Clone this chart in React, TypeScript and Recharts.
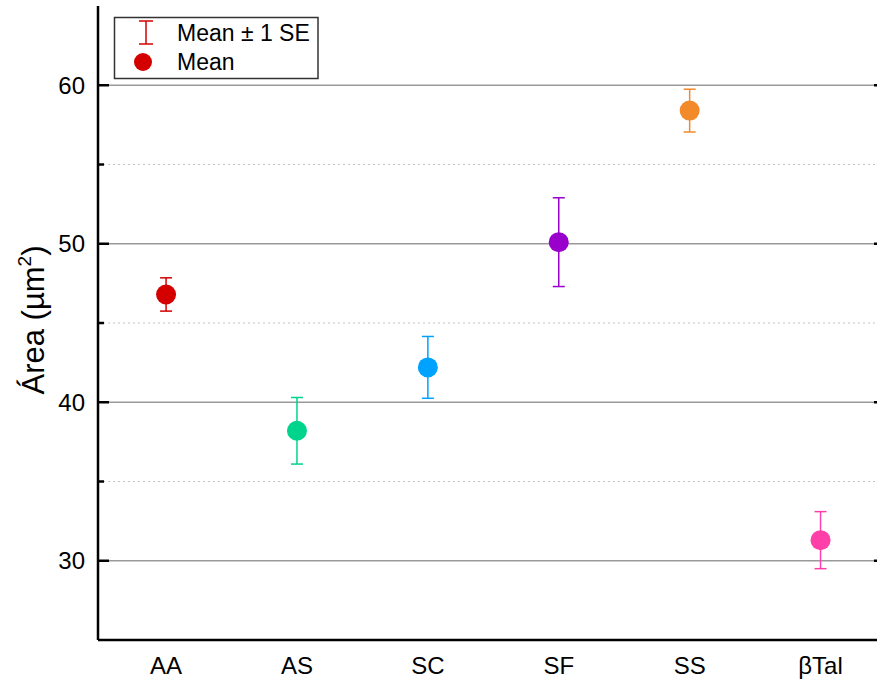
import React from 'react';
import { ComposedChart, Scatter, ErrorBar, XAxis, YAxis, ReferenceLine } from 'recharts';

const categories = ['AA', 'AS', 'SC', 'SF', 'SS', 'βTal'];
const means = [46.8, 38.2, 42.2, 50.1, 58.4, 31.3];
const errors = [1.05, 2.1, 1.95, 2.8, 1.35, 1.8];
const colors = ['#D40000', '#00D48C', '#00A2FF', '#9900CC', '#F28A2A', '#FF40A8'];
const majorTicks = [30, 40, 50, 60];
const minorTicks = [35, 45, 55];

const FONT = '"Liberation Sans", Arial, sans-serif';

const series = categories.map((name, i) => ({
  name,
  color: colors[i],
  data: [{ x: i + 1, y: means[i], err: errors[i] }],
}));

const LeftTick = ({ x, y, payload }: any) => {
  const major = majorTicks.includes(payload.value);
  const minor = minorTicks.includes(payload.value);
  if (!major && !minor) return null;
  return (
    <g>
      <line x1={x} y1={y} x2={x + (major ? 11 : 6)} y2={y} stroke="#000" strokeWidth={2.5} />
      {major && (
        <text x={x - 13} y={y} dy="0.36em" textAnchor="end" fontSize={24} fill="#000" fontFamily={FONT}>
          {payload.value}
        </text>
      )}
    </g>
  );
};

const RightTick = ({ x, y, payload }: any) => {
  const major = majorTicks.includes(payload.value);
  const minor = minorTicks.includes(payload.value);
  if (!major && !minor) return null;
  return <line x1={x - (major ? 12 : 6)} y1={y} x2={x} y2={y} stroke="#000" strokeWidth={2.5} />;
};

const BottomTick = ({ x, y, payload }: any) => (
  <text x={x} y={y + 34} textAnchor="middle" fontSize={24} fill="#000" fontFamily={FONT}>
    {categories[payload.value - 1]}
  </text>
);

const App = () => {
  const yTicks = [...majorTicks, ...minorTicks].sort((a, b) => a - b);
  return (
    <div style={{ position: 'absolute', left: 0, top: 0, width: 877, height: 684, overflow: 'hidden', background: '#fff' }}>
      <ComposedChart width={900} height={684} margin={{ top: 6, right: 0, bottom: 0, left: 0 }}>
        <XAxis
          xAxisId="b"
          type="number"
          dataKey="x"
          domain={[0.48, 6.5]}
          ticks={[1, 2, 3, 4, 5, 6]}
          allowDataOverflow
          height={44}
          tickSize={0}
          tickMargin={0}
          tickLine={false}
          axisLine={{ stroke: '#000', strokeWidth: 2.5 }}
          tick={<BottomTick />}
        />
        <XAxis
          xAxisId="t"
          orientation="top"
          type="number"
          domain={[0.48, 6.5]}
          allowDataOverflow
          height={0}
          tick={false}
          tickLine={false}
          axisLine={{ stroke: '#000', strokeWidth: 2.5 }}
        />
        <YAxis
          yAxisId="l"
          type="number"
          domain={[25, 65]}
          ticks={yTicks}
          allowDataOverflow
          width={98}
          tickSize={0}
          tickMargin={0}
          tickLine={false}
          axisLine={{ stroke: '#000', strokeWidth: 2.5 }}
          tick={<LeftTick />}
        />
        <YAxis
          yAxisId="r"
          orientation="right"
          type="number"
          domain={[25, 65]}
          ticks={yTicks}
          allowDataOverflow
          width={14}
          tickSize={0}
          tickMargin={0}
          tickLine={false}
          axisLine={{ stroke: '#000', strokeWidth: 2.5 }}
          tick={<RightTick />}
        />
        {majorTicks.map((v) => (
          <ReferenceLine key={'M' + v} xAxisId="b" yAxisId="l" y={v} stroke="#999" strokeWidth={1.5} />
        ))}
        {minorTicks.map((v) => (
          <ReferenceLine key={'m' + v} xAxisId="b" yAxisId="l" y={v} stroke="#c4c4c4" strokeWidth={1} strokeDasharray="2 3" />
        ))}
        {series.map((s) => (
          <Scatter
            key={s.name}
            xAxisId="b"
            yAxisId="l"
            data={s.data}
            dataKey="y"
            fill={s.color}
            isAnimationActive={false}
            shape={(p: any) => <circle cx={p.cx} cy={p.cy} r={10} fill={s.color} />}
          >
            <ErrorBar dataKey="err" direction="y" width={6} stroke={s.color} strokeWidth={1.5} />
          </Scatter>
        ))}
      </ComposedChart>
      <svg width={877} height={684} style={{ position: 'absolute', left: 0, top: 0, pointerEvents: 'none' }} fontFamily={FONT}>
        <text transform="translate(44,320) rotate(-90)" textAnchor="middle" fontSize={31} fill="#000">
          Área (µm<tspan fontSize={19} dy={-13}>2</tspan><tspan dy={13}>)</tspan>
        </text>
        <rect x={114.5} y={17.5} width={203.5} height={61} fill="#fff" stroke="#333" strokeWidth={1.5} />
        <line x1={146} y1={21} x2={146} y2={44} stroke={colors[0]} strokeWidth={1.5} />
        <line x1={139} y1={21} x2={153} y2={21} stroke={colors[0]} strokeWidth={1.5} />
        <line x1={139} y1={44} x2={153} y2={44} stroke={colors[0]} strokeWidth={1.5} />
        <text x={177} y={41} fontSize={23} fill="#000">Mean ± 1 SE</text>
        <circle cx={143} cy={62} r={9} fill={colors[0]} />
        <text x={177} y={70} fontSize={23} fill="#000">Mean</text>
      </svg>
    </div>
  );
};

export default App;
